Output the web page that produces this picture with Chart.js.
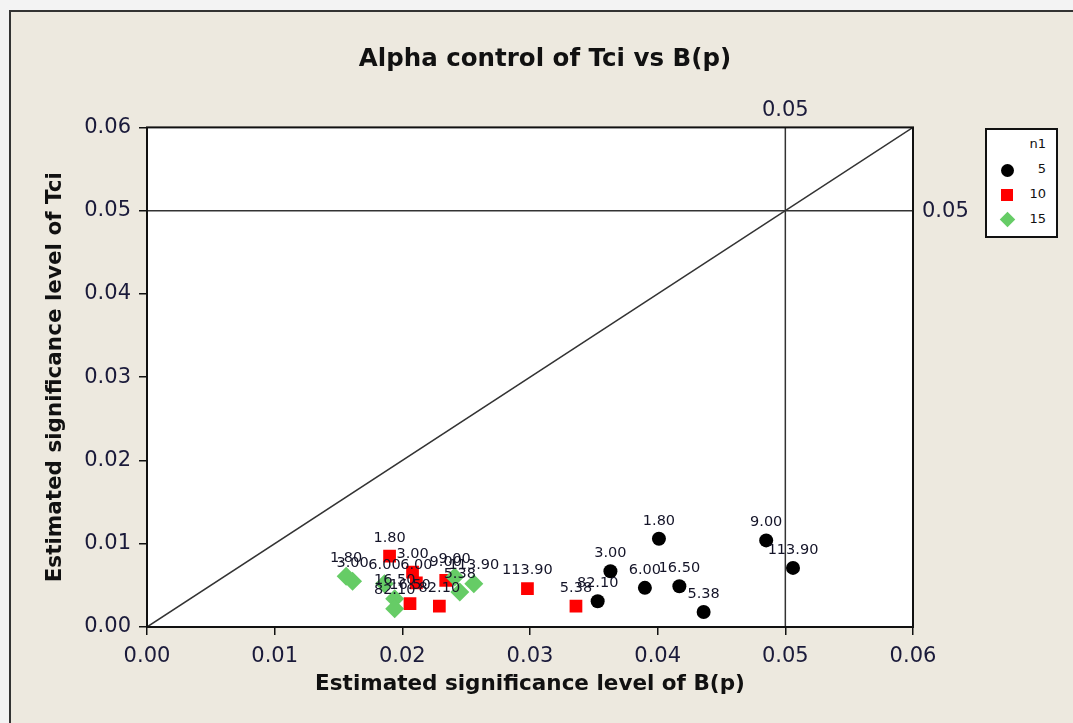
<!DOCTYPE html>
<html>
<head>
<meta charset="utf-8">
<script src="https://cdn.jsdelivr.net/npm/chart.js@4.4.1/dist/chart.umd.min.js"></script>
<style>
  html, body { margin: 0; padding: 0; background: #f3f3f3; overflow: hidden; }
  #frame { position: absolute; left: 9px; top: 10px; width: 1100px; height: 760px;
           background: #ede9df; border-left: 2px solid #333; border-top: 2px solid #333; }
  #myChart { position: absolute; left: 0; top: 0; }
  #legend { position: absolute; left: 985px; top: 128px; width: 69px; height: 106px;
            background: #fff; border: 2px solid #111; font: 13px "DejaVu Sans", sans-serif; color: #111; }
  #legend .row { position: absolute; left: 0; width: 69px; height: 20px; }
  #legend .lab { position: absolute; right: 10px; top: 1px; }
  #legend .sym { position: absolute; left: 14px; top: 4px; }
</style>
</head>
<body>
<div id="frame"></div>
<canvas id="myChart" width="1073" height="723"></canvas>
<div id="legend"></div>
<script>
// point labels (same order for n1 = 5 and n1 = 10)
var pointLabels = ['1.80', '3.00', '5.38', '6.00', '9.00', '16.50', '82.10', '113.90'];

// n1 = 5
var bpN5  = [0.0401, 0.0363, 0.0436, 0.0390, 0.0485, 0.0417, 0.0353, 0.0506];
var tciN5 = [0.0106, 0.0067, 0.0018, 0.0047, 0.0104, 0.0049, 0.0031, 0.0071];
// n1 = 10
var bpN10  = [0.0190, 0.0208, 0.0336, 0.0211, 0.0234, 0.0206, 0.0229, 0.0298];
var tciN10 = [0.0085, 0.0066, 0.0025, 0.0053, 0.0056, 0.0028, 0.0025, 0.0046];
// n1 = 15
var bpN15  = [0.0156, 0.0161, 0.0186, 0.0194, 0.0194, 0.0241, 0.0245, 0.0256];
var tciN15 = [0.0061, 0.0055, 0.0052, 0.0034, 0.0022, 0.0060, 0.0042, 0.0052];
var labelsN15 = ['1.80', '3.00', '6.00', '16.50', '82.10', '9.00', '5.38', '113.90'];

var groupNames = ['5', '10', '15'];
var groupColors = ['#000000', '#ff0000', '#66cc66'];

// reference lines
var diagLine = [0, 0.06];
var refBp = 0.05;
var refTci = 0.05;

var tickLabels = ['0.00', '0.01', '0.02', '0.03', '0.04', '0.05', '0.06'];

var font = '"DejaVu Sans", sans-serif';
var textColor = '#1a1a3a';

function pts(xs, ys) {
  return xs.map(function (x, i) { return {x: x, y: ys[i]}; });
}

var chartData = {
  datasets: [
    {label: '15', data: pts(bpN15, tciN15), pointLabels: labelsN15, pointStyle: 'rectRot',
     pointRadius: 9.5, backgroundColor: groupColors[2], borderColor: groupColors[2], borderWidth: 0, order: 1},
    {label: '10', data: pts(bpN10, tciN10), pointLabels: pointLabels, pointStyle: 'rect',
     pointRadius: 9, backgroundColor: groupColors[1], borderColor: groupColors[1], borderWidth: 0, order: 2},
    {label: '5', data: pts(bpN5, tciN5), pointLabels: pointLabels, pointStyle: 'circle',
     pointRadius: 7, backgroundColor: groupColors[0], borderColor: groupColors[0], borderWidth: 0, order: 3},
    {type: 'line', label: 'y=x', data: pts(diagLine, diagLine), borderColor: '#333', borderWidth: 1.5,
     pointRadius: 0, order: 4}
  ]
};

// white plot area, 0.05 reference lines, frame and point labels
var plotExtras = {
  id: 'plotExtras',
  beforeDraw: function (chart) {
    var ctx = chart.ctx, a = chart.chartArea;
    ctx.save();
    ctx.fillStyle = '#fff';
    ctx.fillRect(a.left, a.top, a.right - a.left, a.bottom - a.top);
    ctx.restore();
  },
  beforeDatasetsDraw: function (chart) {
    var ctx = chart.ctx, a = chart.chartArea;
    var xs = chart.scales.x, ys = chart.scales.y;
    ctx.save();
    ctx.strokeStyle = '#333';
    ctx.lineWidth = 1.5;
    var px = xs.getPixelForValue(refBp), py = ys.getPixelForValue(refTci);
    ctx.beginPath();
    ctx.moveTo(px, a.top); ctx.lineTo(px, a.bottom);
    ctx.moveTo(a.left, py); ctx.lineTo(a.right, py);
    ctx.stroke();
    ctx.fillStyle = textColor;
    ctx.font = '21px ' + font;
    ctx.textAlign = 'center';
    ctx.textBaseline = 'middle';
    ctx.fillText(refBp.toFixed(2), px, a.top - 17);
    ctx.textAlign = 'left';
    ctx.fillText(refTci.toFixed(2), a.right + 9, py + 1);
    ctx.restore();
  },
  afterDatasetsDraw: function (chart) {
    var ctx = chart.ctx, a = chart.chartArea;
    ctx.save();
    ctx.font = '14.5px ' + font;
    ctx.fillStyle = '#141428';
    ctx.textAlign = 'center';
    ctx.textBaseline = 'middle';
    [2, 1, 0].forEach(function (di) {
      var ds = chart.data.datasets[di];
      chart.getDatasetMeta(di).data.forEach(function (el, i) {
        ctx.fillText(ds.pointLabels[i], el.x, el.y - 18);
      });
    });
    ctx.strokeStyle = '#111';
    ctx.lineWidth = 2;
    ctx.strokeRect(a.left, a.top, a.right - a.left, a.bottom - a.top);
    ctx.restore();
  }
};

var ctx = document.getElementById('myChart').getContext('2d');
var myChart = new Chart(ctx, {
  type: 'scatter',
  data: chartData,
  plugins: [plotExtras],
  options: {
    responsive: false,
    animation: false,
    layout: {padding: {top: 0, right: 0, bottom: 0, left: 17}},
    plugins: {
      legend: {display: false},
      tooltip: {enabled: false},
      title: {
        display: true,
        text: 'Alpha control of Tci vs B(p)',
        color: '#111',
        font: {family: font, size: 24.5, weight: 'bold'},
        padding: {top: 45, bottom: 53}
      }
    },
    scales: {
      x: {
        type: 'linear', min: 0, max: 0.06,
        ticks: {stepSize: 0.01, color: textColor, font: {family: font, size: 21}, padding: 9,
                callback: function (v, i) { return tickLabels[i]; }},
        grid: {drawOnChartArea: false, tickLength: 8, color: '#111', lineWidth: 1.5},
        border: {display: false},
        title: {display: true, text: 'Estimated significance level of B(p)', color: '#111',
                font: {family: font, size: 21.5, weight: 'bold'}, padding: {top: 0, bottom: 26}},
        afterFit: function (s) { s.height = 723 - 627; }
      },
      y: {
        type: 'linear', min: 0, max: 0.06,
        ticks: {stepSize: 0.01, color: textColor, font: {family: font, size: 21}, padding: 8,
                callback: function (v, i) { return tickLabels[i]; }},
        grid: {drawOnChartArea: false, tickLength: 8, color: '#111', lineWidth: 1.5},
        border: {display: false},
        title: {display: true, text: 'Estimated significance level of Tci', color: '#111',
                font: {family: font, size: 21.5, weight: 'bold'}, padding: {top: 26, bottom: 0}},
        afterFit: function (s) { s.width = 147 - 17; }
      },
      // empty right axis that keeps room for the legend box
      yRight: {
        position: 'right', min: 0, max: 0.06,
        ticks: {display: false},
        grid: {display: false},
        border: {display: false},
        afterFit: function (s) { s.width = 1073 - 913; }
      }
    }
  }
});

// legend box built from the group arrays
var legend = document.getElementById('legend');
var head = document.createElement('div');
head.className = 'row';
head.style.top = '5px';
head.innerHTML = '<span class="lab">n1</span>';
legend.appendChild(head);
var symCss = [
  'width:13px;height:13px;border-radius:7px;',
  'width:12px;height:12px;',
  'width:11px;height:11px;transform:rotate(45deg);margin-left:1px;'
];
groupNames.forEach(function (name, i) {
  var row = document.createElement('div');
  row.className = 'row';
  row.style.top = (30 + i * 25) + 'px';
  row.innerHTML = '<span class="sym" style="background:' + groupColors[i] + ';' + symCss[i] + '"></span>' +
                  '<span class="lab">' + name + '</span>';
  legend.appendChild(row);
});
</script>
</body>
</html>
